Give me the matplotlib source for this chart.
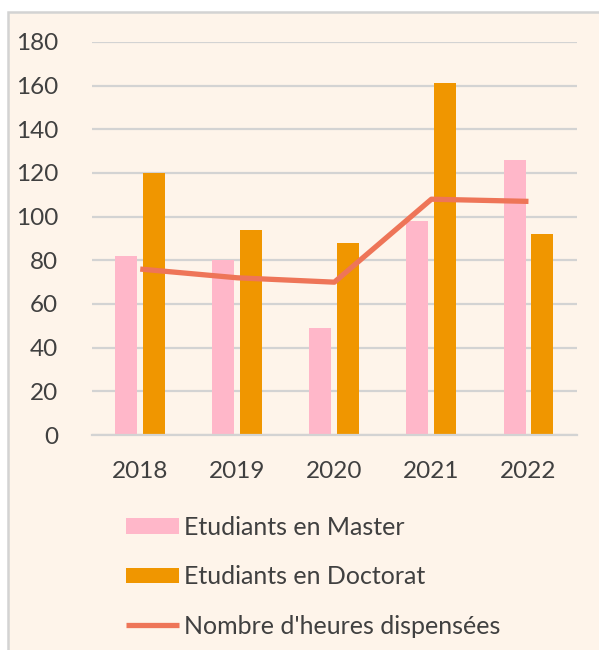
import matplotlib; matplotlib.use("Agg")
import matplotlib.pyplot as plt
import numpy as np
from matplotlib.patches import Rectangle

years = ["2018", "2019", "2020", "2021", "2022"]
master = [82, 80, 49, 98, 126]
doctorat = [120, 94, 88, 161, 92]
heures = [76, 72, 70, 108, 107]

BG = "#FEF4EA"
TXT = "#404040"
GRID = "#D3D3D3"
plt.rcParams["font.family"] = ["Lato", "DejaVu Sans"]

W, H = 599, 650
fig = plt.figure(figsize=(W / 100, H / 100), dpi=100, facecolor="white")
# chart area frame (cream with gray border, runs off the right/bottom edge)
fig.patches.append(Rectangle((8 / W, -0.05), 1.1, 1 - 12 / H + 0.05, transform=fig.transFigure,
                             facecolor=BG, edgecolor=GRID, linewidth=1.8, zorder=-5))

ax = fig.add_axes([91.7 / W, 1 - 435 / H, (577 - 91.7) / W, (435 - 42) / H])
ax.patch.set_alpha(0)

x = np.arange(len(years))
bw, gap = 0.227, 0.06
b1 = ax.bar(x - (bw + gap) / 2, master, bw, color="#FFB7C9", label="Etudiants en Master", zorder=2)
b2 = ax.bar(x + (bw + gap) / 2, doctorat, bw, color="#F09600", label="Etudiants en Doctorat", zorder=2)
l1, = ax.plot(x, heures, color="#EE7558", lw=3.8, solid_capstyle="butt", label="Nombre d'heures dispensées", zorder=3)

ax.set_xlim(-0.5, len(years) - 0.5)
ax.set_ylim(0, 180)
ax.set_yticks(range(0, 181, 20))
ax.set_xticks(x, years)
ax.yaxis.grid(True, color=GRID, lw=1.6, zorder=0)
ax.set_axisbelow(True)
for s in ["top", "right", "left"]:
    ax.spines[s].set_visible(False)
ax.spines["bottom"].set_color(GRID)
ax.spines["bottom"].set_linewidth(1.6)
ax.tick_params(axis="both", length=0, labelsize=17.5, labelcolor=TXT)
ax.tick_params(axis="y", pad=24)
ax.tick_params(axis="x", pad=19)

fig.legend([b1, b2, l1], [b1.get_label(), b2.get_label(), l1.get_label()],
           loc="upper left", bbox_to_anchor=(126 / W, 1 - 516 / H), frameon=False, fontsize=18,
           labelcolor=TXT, borderpad=0, borderaxespad=0, handlelength=2.1, handleheight=0.6,
           handletextpad=0.2, labelspacing=1.05)

fig.savefig("out.png", dpi=100, facecolor="white")
